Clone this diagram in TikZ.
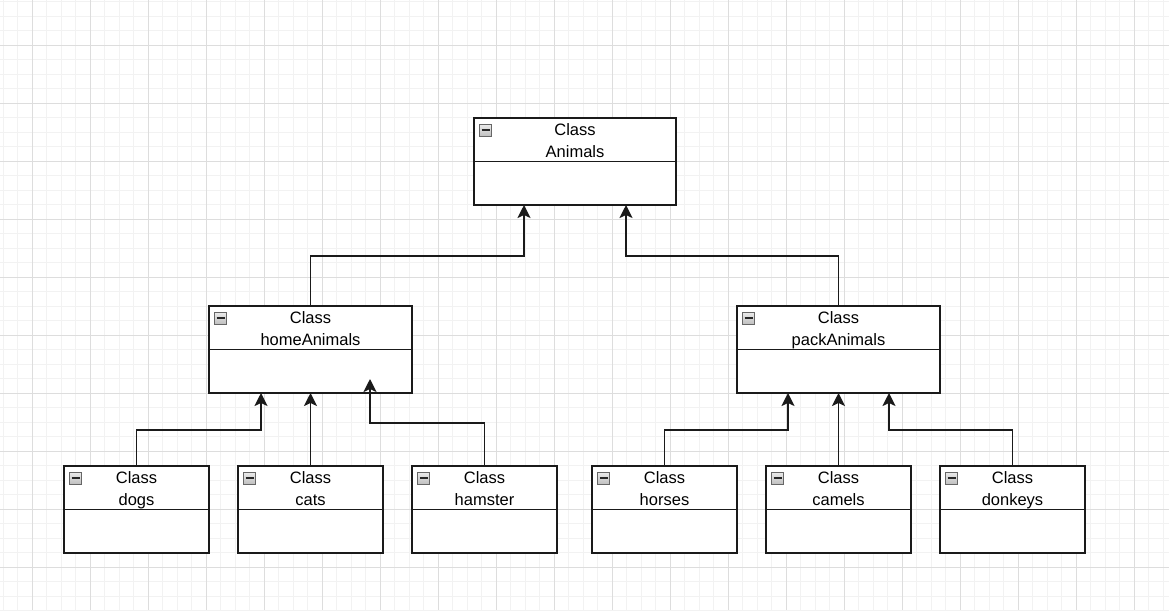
\documentclass[tikz,border=0pt]{standalone}
\usepackage{fontspec}
\setmainfont{Liberation Sans}
\usetikzlibrary{arrows.meta}
\definecolor{minorg}{HTML}{F2F2F2}
\definecolor{majorg}{HTML}{DDDDDD}
\definecolor{ink}{HTML}{1A1A1A}
\tikzset{
  classbox/.style={draw=ink, line width=1.9pt, fill=white, rectangle, inner sep=0pt, outer sep=0pt, minimum height=87pt},
  classline/.style={draw=ink, line width=1.9pt},
  lbl/.style={inner sep=0pt, font=\fontsize{16.5}{20}\selectfont, text=black},
  iconbox/.style={draw=gray!80!black, line width=0.7pt, top color=gray!15, bottom color=gray!50, minimum size=12pt, inner sep=0pt},
  conn/.style={draw=ink, line width=1.9pt, -{Stealth[length=13pt, width=13pt, inset=3pt]}},
  minorgrid/.style={draw=minorg, line width=0.9pt},
  majorgrid/.style={draw=majorg, line width=0.9pt}
}
\newcommand{\umlbox}[5]{%
  \node[classbox, minimum width=#4 pt, anchor=north west] (#1) at (#2,#3) {};
  \draw[classline] ([yshift=-43.5pt]#1.north west) -- ([yshift=-43.5pt]#1.north east);
  \node[lbl, anchor=base] (#1-t1) at ([yshift=-17pt]#1.north) {Class};
  \node[lbl, anchor=base] (#1-t2) at ([yshift=-39pt]#1.north) {#5};
  \node[iconbox] (#1-ic) at ([xshift=11.5pt,yshift=-12pt]#1.north west) {};
  \draw[black!85, line width=1.8pt] ([xshift=-4pt]#1-ic.center) -- ([xshift=4pt]#1-ic.center);
}
\begin{document}
\begin{tikzpicture}[x=1pt, y=-1pt]
\useasboundingbox (0,0) rectangle (1169,610);
\fill[white] (0,0) rectangle (1169,610);
\begin{scope}
\clip (0,0) rectangle (1169,610);
\foreach \i in {0,...,80} { \draw[minorgrid] ({3+14.5*\i},0) -- ({3+14.5*\i},610); }
\foreach \j in {0,...,42} { \draw[minorgrid] (0,{1.5+14.5*\j}) -- (1169,{1.5+14.5*\j}); }
\foreach \i in {0,...,19} { \draw[majorgrid] ({32+58*\i},0) -- ({32+58*\i},610); }
\foreach \j in {0,...,9} { \draw[majorgrid] (0,{45+58*\j}) -- (1169,{45+58*\j}); }
\end{scope}

\umlbox{animals}{474}{118}{202}{Animals}
\umlbox{home}{209}{306}{203}{homeAnimals}
\umlbox{pack}{737}{306}{203}{packAnimals}
\umlbox{dogs}{64}{466}{145}{dogs}
\umlbox{cats}{238}{466}{145}{cats}
\umlbox{hamster}{412}{466}{145}{hamster}
\umlbox{horses}{592}{466}{145}{horses}
\umlbox{camels}{766}{466}{145}{camels}
\umlbox{donkeys}{940}{466}{145}{donkeys}

\draw[conn] (home.north) -- ++(0,-50) -| ([xshift=-51pt]animals.south);
\draw[conn] (pack.north) -- ++(0,-50) -| ([xshift=51pt]animals.south);
\draw[conn] (dogs.north) -- ++(0,-36) -| ([xshift=-49.5pt]home.south);
\draw[conn] (cats.north) -- (home.south);
\draw[conn] (hamster.north) -- ++(0,-43) -| ([xshift=59.5pt,yshift=14pt]home.south);
\draw[conn] (horses.north) -- ++(0,-36) -| ([xshift=-50.5pt]pack.south);
\draw[conn] (camels.north) -- (pack.south);
\draw[conn] (donkeys.north) -- ++(0,-36) -| ([xshift=50.5pt]pack.south);
\end{tikzpicture}
\end{document}
